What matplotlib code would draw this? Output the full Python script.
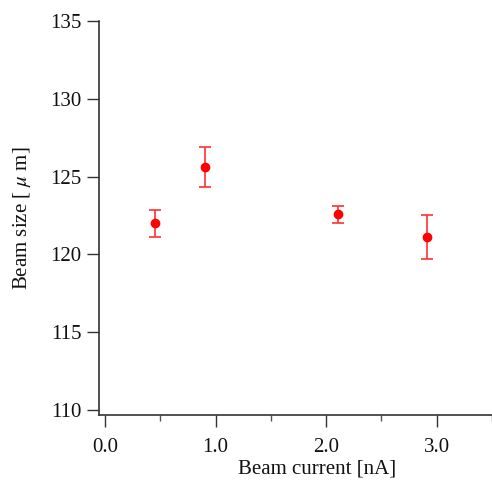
import numpy as np
import matplotlib
matplotlib.use("Agg")
import matplotlib.pyplot as plt
from matplotlib.ticker import MultipleLocator

# data
current = [0.45, 0.907, 2.11, 2.91]
beam_size = [121.99, 125.62, 122.58, 121.13]
beam_err = [0.87, 1.26, 0.55, 1.40]
x_ticks = [0.0, 1.0, 2.0, 3.0]
x_labels = ["0.0", "1.0", "2.0", "3.0"]
y_ticks = [110, 115, 120, 125, 130, 135]

plt.rcParams['font.family'] = ['Liberation Serif', 'DejaVu Serif']
plt.rcParams['mathtext.fontset'] = 'stix'

fig = plt.figure(figsize=(4.92, 4.83), dpi=100)
ax = fig.add_axes([99/492, 1 - 415/483, 393/492, (415 - 21)/483])

ax.errorbar(current, beam_size, yerr=beam_err, fmt='o', color='#ff0000',
            ecolor='#ff3030', markersize=6, capsize=4, elinewidth=1.2,
            capthick=1.2)

ax.set_xlim(-0.054, 3.5)
ax.set_ylim(109.68, 135)
ax.set_xticks(x_ticks)
ax.set_xticklabels(x_labels)
ax.xaxis.set_minor_locator(MultipleLocator(0.5))
ax.set_yticks(y_ticks)

for s in ['top', 'right']:
    ax.spines[s].set_visible(False)
for s in ['left', 'bottom']:
    ax.spines[s].set_color('#333333')
    ax.spines[s].set_linewidth(1.2)

ax.tick_params(axis='both', which='major', direction='out', length=8.5,
               width=1.0, color='#333333', labelsize=15, labelcolor='#111111')
ax.tick_params(axis='x', which='major', pad=8)
ax.tick_params(axis='y', which='major', pad=4)
ax.tick_params(axis='x', which='minor', direction='out', length=4.3,
               width=1.0, color='#555555')

ax.set_xlabel("Beam current [nA]", fontsize=15, color='#111111')
ax.set_ylabel(r"Beam size [ $\mu$ m]", fontsize=15, color='#111111')
ax.xaxis.set_label_coords((317 - 99) / 393, -0.112)
ax.yaxis.set_label_coords(-0.167, 0.5)

fig.savefig("out.png", dpi=100)
